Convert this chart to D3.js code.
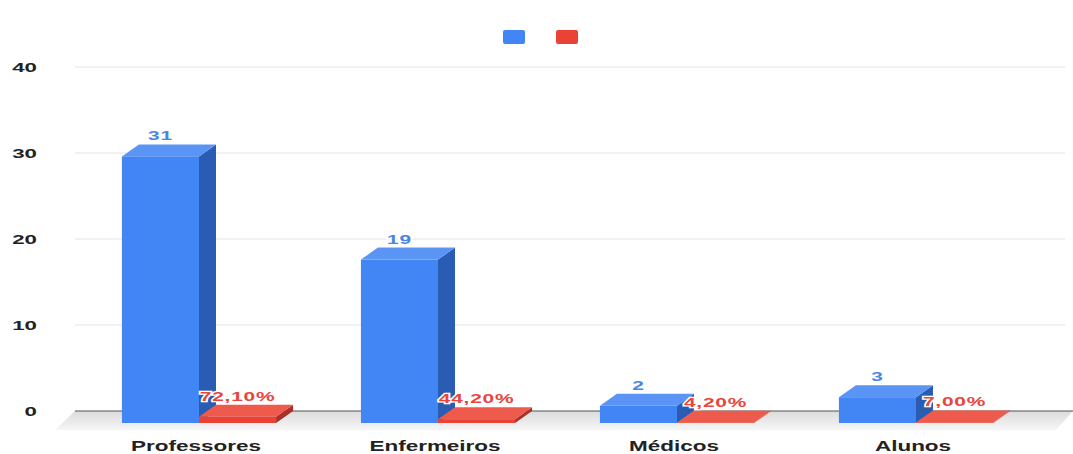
<!DOCTYPE html>
<html>
<head>
<meta charset="utf-8">
<script src="https://cdn.jsdelivr.net/npm/d3@7"></script>
<style>
  body { margin: 0; background: #fff; }
  svg { display: block; }
  text { font-family: "Liberation Sans", Arial, sans-serif; font-weight: bold; }
</style>
</head>
<body>
<script>
// data
var categories = ["Professores", "Enfermeiros", "Médicos", "Alunos"];
var counts = [31, 19, 2, 3];
var shares = [0.721, 0.442, 0.042, 0.07];
var shareLabels = ["72,10%", "44,20%", "4,20%", "7,00%"];
var yTicks = [0, 10, 20, 30, 40];
var seriesColors = ["#4285f4", "#ea4335"];

var width = 1073, height = 454;
var dx = 17, dy = 12; // 3d depth offset
var sx = 1.55; // text is stretched wide in the original

var svg = d3.select("body").append("svg")
  .attr("width", width)
  .attr("height", height);

var y = d3.scaleLinear().domain([0, 40]).range([411, 67]);
var x = d3.scaleBand().domain(categories)
  .range([96.5, 1052.5])
  .paddingInner(0.355)
  .paddingOuter(0.1775);
var xs = d3.scaleBand().domain([0, 1]).range([0, x.bandwidth()]);

var defs = svg.append("defs");
var fg = defs.append("linearGradient").attr("id", "floor")
  .attr("x1", 0).attr("y1", 0).attr("x2", 0).attr("y2", 1);
fg.append("stop").attr("offset", "0%").attr("stop-color", "#dcdcdc");
fg.append("stop").attr("offset", "100%").attr("stop-color", "#f6f6f6");

// floor
svg.append("polygon")
  .attr("points", [[75, y(0)], [1073, y(0)], [1056, y(0) + 19], [55, y(0) + 19]].join(" "))
  .attr("fill", "url(#floor)");

// gridlines
svg.selectAll(".grid")
  .data(yTicks)
  .enter()
  .append("line")
  .attr("x1", 75)
  .attr("x2", function(d){ return d == 0 ? 1073 : 1065; })
  .attr("y1", function(d){ return y(d); })
  .attr("y2", function(d){ return y(d); })
  .attr("stroke", function(d){ return d == 0 ? "#555" : "#e3e3e3"; })
  .attr("stroke-width", function(d){ return d == 0 ? 1.2 : 1; });

// y tick labels
svg.selectAll(".ytick")
  .data(yTicks)
  .enter()
  .append("text")
  .attr("transform", function(d){ return "translate(37," + (y(d) + 5) + ") scale(1.65,1)"; })
  .attr("text-anchor", "end")
  .attr("font-size", 13.5)
  .attr("fill", "#222")
  .text(function(d){ return d; });

// bars, blue first then red, left to right
var bars = [];
categories.forEach(function(c, i){
  bars.push({cat: c, s: 0, v: counts[i], label: String(counts[i])});
  bars.push({cat: c, s: 1, v: shares[i], label: shareLabels[i]});
});

var shade = [
  {front: "#4285f4", top: "#5a95f6", side: "#2b5cb4"},
  {front: "#ea4335", top: "#ee5a4c", side: "#a8322a"}
];

var g = svg.selectAll(".bar")
  .data(bars)
  .enter()
  .append("g");

function bx0(d){ return x(d.cat) + xs(d.s); }
function bx1(d){ return bx0(d) + xs.bandwidth(); }

g.append("polygon") // side
  .attr("points", function(d){
    var x1 = bx1(d), t = y(d.v);
    return [[x1 - dx, t + dy], [x1, t], [x1, y(0)], [x1 - dx, y(0) + dy]].join(" ");
  })
  .attr("fill", function(d){ return shade[d.s].side; });

g.append("polygon") // top
  .attr("points", function(d){
    var x0 = bx0(d), x1 = bx1(d), t = y(d.v);
    return [[x0 - dx, t + dy], [x1 - dx, t + dy], [x1, t], [x0, t]].join(" ");
  })
  .attr("fill", function(d){ return shade[d.s].top; });

g.append("rect") // front
  .attr("x", function(d){ return bx0(d) - dx; })
  .attr("y", function(d){ return y(d.v) + dy; })
  .attr("width", xs.bandwidth())
  .attr("height", function(d){ return y(0) - y(d.v); })
  .attr("fill", function(d){ return shade[d.s].front; });

// value labels
svg.selectAll(".vlabel")
  .data(bars)
  .enter()
  .append("text")
  .attr("transform", function(d){
    return "translate(" + (bx0(d) - dx + xs.bandwidth() / 2) + "," + (y(d.v) - 4) + ") scale(" + sx + ",1)";
  })
  .attr("text-anchor", "middle")
  .attr("font-size", 13.5)
  .attr("letter-spacing", 0.5)
  .attr("fill", function(d){ return d.s == 0 ? "#4a84e6" : "#e8453c"; })
  .attr("stroke", "#fff")
  .attr("stroke-width", 2.5)
  .attr("paint-order", "stroke")
  .text(function(d){ return d.label; });

// category labels
svg.selectAll(".xlabel")
  .data(categories)
  .enter()
  .append("text")
  .attr("transform", function(d){
    return "translate(" + (x(d) - dx + x.bandwidth() / 2 - 3) + ",451) scale(" + sx + ",1)";
  })
  .attr("text-anchor", "middle")
  .attr("font-size", 14.5)
  .attr("fill", "#222")
  .text(function(d){ return d; });

// legend (series have no names)
svg.selectAll(".legend")
  .data(seriesColors)
  .enter()
  .append("rect")
  .attr("x", function(d, i){ return 503 + i * 53; })
  .attr("y", 30)
  .attr("width", 22)
  .attr("height", 14)
  .attr("rx", 2)
  .attr("fill", function(d){ return d; });
</script>
</body>
</html>
